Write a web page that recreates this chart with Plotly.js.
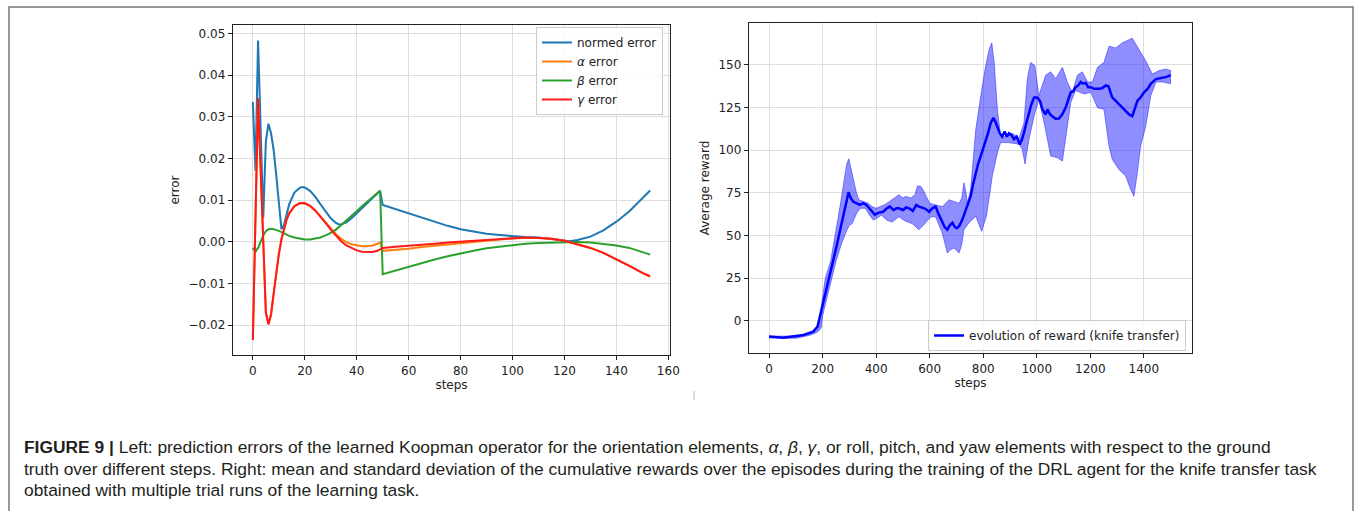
<!DOCTYPE html>
<html>
<head>
<meta charset="utf-8">
<script src="https://cdn.plot.ly/plotly-3.0.1.min.js"></script>
<style>
html,body{margin:0;padding:0;background:#fff;}
#chart{width:1355px;height:511px;}
</style>
</head>
<body>
<div id="chart"></div>
<script>
// ---------- Left panel: prediction errors ----------
const normSteps = [0,1,2,3,4,5,6,7,8,9,10,11,12,13,14,16,18,19,20,22,24,26,28,30,32,33,34,36,38,40,42,44,46,48,49,50,55,60,65,70,75,80,85,90,95,100,105,110,115,120,122,125,130,135,140,145,150,153];
const normErr = [0.0335,0.017,0.0483,0.027,0.0057,0.024,0.0283,0.026,0.022,0.016,0.009,0.0030,0.0040,0.0068,0.0090,0.0118,0.0129,0.0131,0.0130,0.0122,0.0108,0.0090,0.0072,0.0056,0.0045,0.0042,0.0041,0.0046,0.0056,0.0068,0.0080,0.0091,0.0102,0.0114,0.0122,0.0088,0.0078,0.0067,0.0057,0.0047,0.0038,0.0030,0.0024,0.0019,0.0016,0.0013,0.0011,0.0010,0.0007,0.0003,0.0001,0.0004,0.0012,0.0027,0.0048,0.0073,0.0103,0.0123];

const alphaSteps = [0,1,2,3,4,5,6,7,8,9,10,11,12,13,14,16,18,19,20,22,24,26,28,30,32,34,36,38,40,42,44,46,48,49,50,55,60,65,70,75,80,85,90,95,100,105,110,115,120,125,130,135,140,145,150,153];
const alphaErr = [-0.0236,0.0054,0.0344,0.0173,0.0001,-0.0170,-0.0198,-0.0175,-0.0125,-0.0075,-0.0030,0.0005,0.0033,0.0053,0.0068,0.0085,0.0092,0.0093,0.0092,0.0086,0.0075,0.0061,0.0045,0.0031,0.0018,0.0007,-0.0001,-0.0006,-0.0009,-0.0011,-0.0011,-0.0009,-0.0005,-0.0002,-0.0022,-0.0020,-0.0017,-0.0013,-0.0010,-0.0006,-0.0003,0.0000,0.0003,0.0006,0.0008,0.0009,0.0009,0.0007,0.0002,-0.0006,-0.0015,-0.0027,-0.0042,-0.0058,-0.0075,-0.0084];

const betaSteps = [0,1,2,3,4,5,6,7,8,10,12,14,16,18,20,22,24,26,28,30,32,35,38,40,42,45,48,49,50,55,60,65,70,75,80,85,90,95,100,105,110,115,120,125,130,135,140,145,150,153];
const betaErr = [-0.0015,-0.0024,-0.0015,0.0000,0.0015,0.0025,0.0030,0.0031,0.0030,0.0026,0.0020,0.0014,0.0010,0.0007,0.0005,0.0005,0.0007,0.0010,0.0015,0.0021,0.0029,0.0045,0.0062,0.0073,0.0085,0.0101,0.0116,0.0122,-0.0078,-0.0069,-0.0060,-0.0051,-0.0043,-0.0035,-0.0028,-0.0022,-0.0016,-0.0012,-0.0008,-0.0005,-0.0003,-0.0002,-0.0001,-0.0001,-0.0002,-0.0005,-0.0009,-0.0015,-0.0024,-0.0031];

const gammaSteps = [0,1,2,3,4,5,6,7,8,9,10,11,12,13,14,16,18,19,20,22,24,26,28,30,32,34,36,38,40,42,44,46,48,49,50,55,60,65,70,75,80,85,90,95,100,105,110,115,120,125,130,135,140,145,150,153];
const gammaErr = [-0.0236,0.0054,0.0344,0.0173,0.0001,-0.0170,-0.0198,-0.0175,-0.0125,-0.0075,-0.0030,0.0005,0.0033,0.0053,0.0068,0.0085,0.0092,0.0093,0.0092,0.0086,0.0075,0.0061,0.0045,0.0029,0.0014,0.0001,-0.0009,-0.0016,-0.0021,-0.0024,-0.0025,-0.0025,-0.0022,-0.0019,-0.0015,-0.0012,-0.0010,-0.0007,-0.0005,-0.0002,0.0000,0.0003,0.0005,0.0007,0.0009,0.0010,0.0009,0.0007,0.0002,-0.0006,-0.0015,-0.0027,-0.0042,-0.0058,-0.0075,-0.0083];

const leftNames = ['normed error','<i>α</i> error','<i>β</i> error','<i>γ</i> error'];

// ---------- Right panel: reward ----------
const meanSteps = [0,53,128,165,181,190,202,215,227,240,252,265,277,288,297,305,314,326,339,352,364,380,395,410,426,440,451,465,476,485,501,512,523,537,550,560,570,580,590,598,610,622,635,647,656,666,675,685,694,703,712,722,734,743,753,762,772,781,791,800,809,818,828,838,845,853,862,871,880,888,896,905,915,925,936,944,952,961,971,980,990,1002,1012,1021,1033,1040,1050,1058,1070,1083,1095,1108,1118,1127,1136,1145,1155,1164,1173,1183,1192,1202,1215,1233,1245,1258,1268,1282,1295,1307,1320,1332,1345,1357,1366,1376,1388,1401,1414,1426,1445,1458,1470,1485,1500];
const meanReward = [-9.2,-9.8,-8.2,-6.3,-3.3,2.5,10.4,19,28,36,43.7,53,61.3,69,75.4,72,70,69,68,69,68,65,62.3,63.5,64,66,67,65,66,66,65,66.5,66,64.5,68,67,66.5,66,65,64,66,67,62,58.4,55,53.5,56,57.5,55,54.5,56,59.4,64.3,68,73,80,87,92,96.7,101,106.5,110,116,119,117,114,110,108,111,108,110,109,106.5,108,103.5,106,110,116,122,127,131,131,129,124,121,124,121,120,118.5,118.6,121,125,130,134,134.5,137,138,140,139,139.5,137,137,136,136,136.5,138,137.5,131,129,127,125,123,121,120,124,129,131,134,136,139,141.7,142,142.7,143,144];

const upperSteps = [0,100,150,175,185,190,200,210,230,250,265,280,290,298,305,315,325,335,350,370,385,400,415,430,450,470,485,500,510,530,545,554,565,573,590,600,622,647,660,672,691,710,720,728,735,741,753,772,791,807,822,832,841,853,865,884,909,934,952,965,977,993,1008,1021,1033,1052,1071,1096,1114,1133,1152,1170,1190,1208,1227,1251,1270,1295,1320,1357,1382,1407,1432,1457,1482,1500];
const upperReward = [-9.0,-8.8,-7.5,-5,-2,2,14,25,35,52,67,82,92,95,90,83,76,71,70,69,67,66,67,68,70,72,74,72,73,72,74,79,79,77.5,72,69,68,67,69,71,70,69,72,81,76,69,77,112,132,147.6,159,163,151.5,124,108,108,110,107,116,142,151.5,149.6,132,138,144,146,142,148.6,140,134,144,146,140,140,148.6,151.5,161,160,163,165.7,159,152.5,144.7,146.7,147.6,146.7];

const lowerSteps = [0,100,150,175,185,195,200,210,230,250,270,290,300,310,327,340,360,375,390,400,420,440,460,485,510,535,560,585,605,622,647,666,680,691,710,720,728,747,772,794,812,834,853,865,896,934,946,956,971,990,1008,1033,1052,1077,1096,1108,1127,1145,1177,1202,1227,1251,1270,1282,1307,1332,1351,1363,1376,1388,1407,1426,1445,1470,1500];
const lowerReward = [-10.0,-10.2,-8.5,-7,-6,-4,3,8,22,35,45,53,56,57,63,66,66,62,59,60,62,59,58,61,58.4,57,53.5,57.5,61,61,51.6,39.8,42,42.7,39.8,45,53.5,57.5,61.4,52.5,61.4,85,98.6,104.5,104.5,103.5,100.6,92,106.5,120,130,112,96.7,95.7,93.7,106.5,128,135,133,134,125,124,102.5,94.7,88.8,85,77,73.1,87,102.5,114,132,140,140,139];

const rightName = 'evolution of reward (knife transfer)';

// polygon for the std band, built from the two edge arrays
const bandX = upperSteps.concat(lowerSteps.slice().reverse());
const bandY = upperReward.concat(lowerReward.slice().reverse());

const W = 1355, H = 511;
const px = v => v / W;
const py = v => 1 - v / H;

const tickFont = {family: 'DejaVu Sans', size: 12, color: '#222'};
const titleFont = {family: 'DejaVu Sans', size: 12, color: '#222'};
const capFont = {family: 'Liberation Sans', size: 17.4, color: '#231f20'};

const traces = [
  {x: normSteps, y: normErr, name: leftNames[0], mode: 'lines', line: {color: '#1f77b4', width: 2}, xaxis: 'x', yaxis: 'y'},
  {x: alphaSteps, y: alphaErr, name: leftNames[1], mode: 'lines', line: {color: '#ff7f0e', width: 2}, xaxis: 'x', yaxis: 'y'},
  {x: betaSteps, y: betaErr, name: leftNames[2], mode: 'lines', line: {color: '#2ca02c', width: 2}, xaxis: 'x', yaxis: 'y'},
  {x: gammaSteps, y: gammaErr, name: leftNames[3], mode: 'lines', line: {color: '#ff1a1a', width: 2}, xaxis: 'x', yaxis: 'y'},
  {x: bandX, y: bandY, mode: 'lines', fill: 'toself', fillcolor: 'rgba(30,30,255,0.5)', line: {color: 'rgba(30,30,255,0.5)', width: 1}, showlegend: false, hoverinfo: 'skip', xaxis: 'x2', yaxis: 'y2', legend: 'legend2'},
  {x: meanSteps, y: meanReward, name: rightName, mode: 'lines', line: {color: '#0000ff', width: 2.5}, xaxis: 'x2', yaxis: 'y2', legend: 'legend2'}
];

const axisCommon = {
  showline: true, mirror: true, linecolor: '#222', linewidth: 1.3,
  ticks: 'outside', ticklen: 4, tickcolor: '#222', tickwidth: 1,
  showgrid: true, gridcolor: '#dddddd', gridwidth: 1,
  zeroline: false, tickfont: tickFont
};

const layout = {
  width: W, height: H,
  margin: {l: 0, r: 0, t: 0, b: 0},
  paper_bgcolor: '#fff', plot_bgcolor: '#fff',
  font: {family: 'DejaVu Sans', size: 12, color: '#222'},
  xaxis: Object.assign({}, axisCommon, {domain: [px(233), px(670)], range: [-7.65, 160.65], dtick: 20, tick0: 0, anchor: 'y',
    title: {text: 'steps', font: titleFont, standoff: 3}}),
  yaxis: Object.assign({}, axisCommon, {domain: [py(355), py(25)], range: [-0.0272, 0.0520], dtick: 0.01, tick0: 0, tickformat: '.2f', anchor: 'x',
    title: {text: 'error', font: titleFont, standoff: 6}}),
  xaxis2: Object.assign({}, axisCommon, {domain: [px(749), px(1192)], range: [-75, 1580], dtick: 200, tick0: 0, anchor: 'y2',
    title: {text: 'steps', font: titleFont, standoff: 3}}),
  yaxis2: Object.assign({}, axisCommon, {domain: [py(353), py(23)], range: [-18.8, 174.6], dtick: 25, tick0: 0, anchor: 'x2',
    title: {text: 'Average reward', font: titleFont, standoff: 6}}),
  legend: {x: px(663), y: py(27), xanchor: 'right', yanchor: 'top', bgcolor: 'rgba(255,255,255,0.85)', bordercolor: '#cccccc', borderwidth: 1,
    font: {family: 'DejaVu Sans', size: 12, color: '#222'}, itemwidth: 30, tracegroupgap: 0},
  legend2: {x: px(1186), y: py(351), xanchor: 'right', yanchor: 'bottom', bgcolor: 'rgba(255,255,255,0.85)', bordercolor: '#cccccc', borderwidth: 1,
    font: {family: 'DejaVu Sans', size: 12, color: '#222'}, itemwidth: 30},
  shapes: [
    {type: 'rect', xref: 'paper', yref: 'paper', x0: px(9), x1: px(1353), y0: -0.2, y1: py(7), line: {color: '#777', width: 1.5}, fillcolor: 'rgba(0,0,0,0)'},
    {type: 'line', xref: 'paper', yref: 'paper', x0: px(694), x1: px(694), y0: py(391), y1: py(400), line: {color: '#bbb', width: 1}}
  ],
  annotations: [
    {xref: 'paper', yref: 'paper', x: px(22), y: py(447), xanchor: 'left', yanchor: 'middle', showarrow: false, align: 'left', font: capFont,
     text: '<b>FIGURE 9 |</b> Left: prediction errors of the learned Koopman operator for the orientation elements, <i>α</i>, <i>β</i>, <i>γ</i>, or roll, pitch, and yaw elements with respect to the ground'},
    {xref: 'paper', yref: 'paper', x: px(22), y: py(468.5), xanchor: 'left', yanchor: 'middle', showarrow: false, align: 'left', font: capFont,
     text: 'truth over different steps. Right: mean and standard deviation of the cumulative rewards over the episodes during the training of the DRL agent for the knife transfer task'},
    {xref: 'paper', yref: 'paper', x: px(22), y: py(490), xanchor: 'left', yanchor: 'middle', showarrow: false, align: 'left', font: capFont,
     text: 'obtained with multiple trial runs of the learning task.'}
  ]
};

Plotly.newPlot('chart', traces, layout, {staticPlot: true, displayModeBar: false});
</script>
</body>
</html>
